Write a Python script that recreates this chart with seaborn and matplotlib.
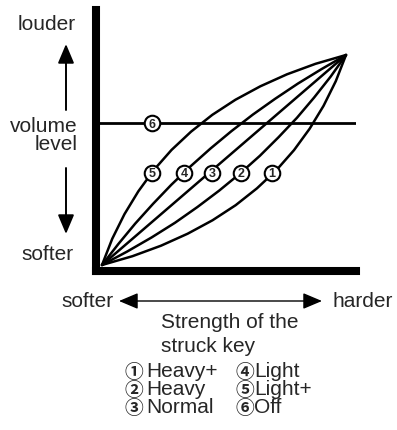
import matplotlib
matplotlib.use("Agg")
import matplotlib.pyplot as plt
import numpy as np
import pandas as pd
import seaborn as sns

# Velocity curves: strength of the struck key (0..1) -> volume level (0..1)
heavy_plus_strength = [0, .125, .242, .351, .453, .548, .635, .715, .787, .851, .908, .958, 1]
heavy_plus_volume = [0, .042, .092, .149, .213, .285, .365, .452, .547, .649, .758, .875, 1]

heavy_strength = [0, .103, .203, .299, .391, .480, .565, .647, .724, .799, .869, .937, 1]
heavy_volume = [0, .064, .131, .201, .276, .354, .435, .520, .609, .701, .797, .897, 1]

normal_strength = [0, .25, .50, .75, 1]
normal_volume = [0, .25, .50, .75, 1]

light_strength = [0, .067, .136, .209, .284, .363, .445, .530, .618, .709, .803, .900, 1]
light_volume = [0, .100, .197, .291, .382, .470, .555, .637, .716, .791, .864, .933, 1]

light_plus_strength = [0, .042, .092, .149, .213, .285, .365, .452, .547, .649, .758, .875, 1]
light_plus_volume = [0, .125, .242, .351, .453, .548, .635, .715, .787, .851, .908, .958, 1]

off_volume = 0.675

curve_names = ["Heavy+", "Heavy", "Normal", "Light", "Light+", "Off"]
curve_marks = ["\u2460", "\u2461", "\u2462", "\u2463", "\u2464", "\u2465"]
label_numbers = ["1", "2", "3", "4", "5", "6"]
label_strength = [0.697, 0.568, 0.451, 0.336, 0.205, 0.205]
label_volume = [0.44, 0.44, 0.44, 0.44, 0.44, off_volume]

curves = pd.concat([
    pd.DataFrame({"strength": heavy_plus_strength, "volume": heavy_plus_volume, "curve": "Heavy+"}),
    pd.DataFrame({"strength": heavy_strength, "volume": heavy_volume, "curve": "Heavy"}),
    pd.DataFrame({"strength": normal_strength, "volume": normal_volume, "curve": "Normal"}),
    pd.DataFrame({"strength": light_strength, "volume": light_volume, "curve": "Light"}),
    pd.DataFrame({"strength": light_plus_strength, "volume": light_plus_volume, "curve": "Light+"}),
], ignore_index=True)

sns.set_theme(style="white")
plt.rcParams["font.family"] = ["Liberation Sans", "Noto Sans CJK JP", "DejaVu Sans"]

W, H = 397, 430
fig = plt.figure(figsize=(W / 100, H / 100), dpi=100)
fig.patch.set_facecolor("white")


def fx(x):
    return x / W


def fy(y):
    return 1 - y / H


ax = fig.add_axes([fx(96), fy(271), (356 - 96) / W, (271 - 10) / H])

sns.lineplot(data=curves, x="strength", y="volume", units="curve", estimator=None,
             sort=False, color="black", lw=1.8, ax=ax, legend=False)
for ln in ax.lines:
    ln.set_solid_joinstyle("round")
ax.axhline(off_volume, color="black", lw=2.0)

ax.set_xlim(-0.02459, 1.04098)
ax.set_ylim(-0.02857, 1.21429)
ax.set_xticks([])
ax.set_yticks([])
ax.set_xlabel("")
ax.set_ylabel("")
for side in ("top", "right"):
    ax.spines[side].set_visible(False)
for side in ("left", "bottom"):
    ax.spines[side].set_linewidth(5.8)
    ax.spines[side].set_color("black")
    ax.spines[side].set_capstyle("projecting")

# circled curve numbers on the chart
ax.scatter(label_strength, label_volume, s=125, facecolor="white", edgecolor="black",
           linewidths=1.5, zorder=4, clip_on=False)
for x, y, n in zip(label_strength, label_volume, label_numbers):
    ax.text(x, y, n, ha="center", va="center_baseline", fontsize=9,
            fontweight="bold", zorder=5)

fs = 15
# vertical axis description
fig.text(fx(76), fy(30), "louder", ha="right", va="baseline", fontsize=fs)
fig.text(fx(78), fy(132), "volume", ha="right", va="baseline", fontsize=fs)
fig.text(fx(78), fy(150), "level", ha="right", va="baseline", fontsize=fs)
fig.text(fx(74), fy(260), "softer", ha="right", va="baseline", fontsize=fs)

arrow_kw = dict(arrowstyle="-|>,head_length=0.9,head_width=0.38", color="black",
                lw=1.4, mutation_scale=13, shrinkA=0, shrinkB=0)
ax.annotate("", xy=(fx(66), fy(44)), xytext=(fx(66), fy(110)),
            xycoords="figure fraction", textcoords="figure fraction",
            arrowprops=arrow_kw, annotation_clip=False)
ax.annotate("", xy=(fx(66), fy(234)), xytext=(fx(66), fy(168)),
            xycoords="figure fraction", textcoords="figure fraction",
            arrowprops=arrow_kw, annotation_clip=False)

# horizontal axis description
fig.text(fx(114), fy(307), "softer", ha="right", va="baseline", fontsize=fs)
fig.text(fx(333), fy(307), "harder", ha="left", va="baseline", fontsize=fs)
ax.annotate("", xy=(fx(322), fy(301)), xytext=(fx(119), fy(301)),
            xycoords="figure fraction", textcoords="figure fraction",
            arrowprops=dict(arrowstyle="<|-|>,head_length=0.9,head_width=0.38",
                            color="black", lw=1.0, mutation_scale=13,
                            shrinkA=0, shrinkB=0),
            annotation_clip=False)
fig.text(fx(161), fy(328), "Strength of the", ha="left", va="baseline", fontsize=fs)
fig.text(fx(161), fy(352), "struck key", ha="left", va="baseline", fontsize=fs)

# key to the curve numbers
key_cols = [125, 235]
key_rows = [377, 395, 413]
for i, (mark, name) in enumerate(zip(curve_marks, curve_names)):
    x0 = key_cols[i // 3]
    y0 = key_rows[i % 3]
    fig.text(fx(x0), fy(y0 + 1), mark, ha="left", va="baseline", fontsize=13.5,
             fontweight="bold", family=["Noto Sans CJK JP", "DejaVu Sans"])
    fig.text(fx(x0 + 21 if i < 3 else x0 + 19), fy(y0), name, ha="left",
             va="baseline", fontsize=fs)

fig.savefig("out.png", dpi=100, facecolor="white")
